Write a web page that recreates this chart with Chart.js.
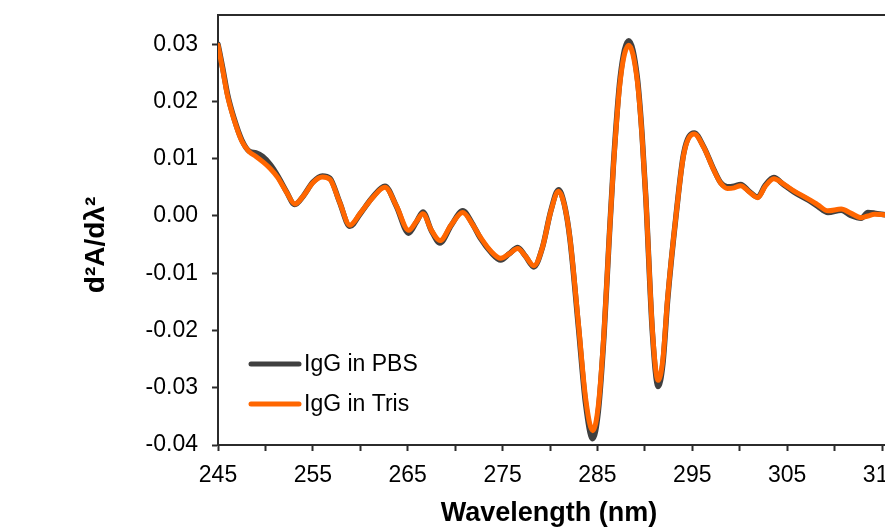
<!DOCTYPE html>
<html>
<head>
<meta charset="utf-8">
<script src="https://cdn.jsdelivr.net/npm/chart.js@4.4.1/dist/chart.umd.min.js"></script>
<style>
  html, body { margin: 0; padding: 0; background: #fff; overflow: hidden; }
  #wrap { width: 920px; height: 531px; }
</style>
</head>
<body>
<div id="wrap"><canvas id="spectrumChart" width="920" height="531"></canvas></div>
<script>
// Second-derivative UV spectra
const wavelength = [245, 245.5, 246, 246.7, 247.5, 248.3, 249, 249.7, 250.5, 251.3, 252.2, 253.1, 254, 255, 256,
    256.8, 257.8, 258.9, 260, 261.3, 262.6, 263.8, 265.1, 265.9, 266.6, 267.5, 268.4, 269.6, 270.8, 271.8,
    272.7, 273.8, 274.8, 275.7, 276.6, 277.4, 278.3, 279.2, 280.1, 280.9, 281.5, 282.1, 283, 283.75, 284.5,
    285.1, 285.7, 286.2, 286.7, 287.4, 288.3, 289.2, 289.7, 290.1, 290.8, 291.4, 291.9, 292.4, 293.3, 294.1,
    295.2, 296.2, 297.3, 298, 298.7, 299.4, 300.1, 301, 301.9, 302.7, 303.6, 304.6, 305.7, 307.2, 308.2,
    309.3, 310.7, 311.7, 312.8, 313.5, 314.2, 315.3];

const iggTris = [0.0298, 0.0255, 0.0210, 0.0168, 0.0131, 0.0112, 0.0104, 0.0095, 0.0083, 0.0067, 0.0042, 0.0021, 0.0035, 0.0058, 0.0068,
    0.0064, 0.0025, -0.0016, 0.0005, 0.0032, 0.0050, 0.0018, -0.0025, -0.0010, 0.0004, -0.0025, -0.0043, -0.0015, 0.0006, -0.0014,
    -0.0038, -0.0062, -0.0074, -0.0066, -0.0057, -0.0070, -0.0087, -0.0055, 0.0009, 0.0043, 0.0020, -0.0039, -0.0189, -0.0318, -0.0375,
    -0.0330, -0.0201, -0.0050, 0.0091, 0.0236, 0.0298, 0.0236, 0.0140, 0.0032, -0.0201, -0.0287, -0.0250, -0.0143, 0.0003, 0.0108,
    0.0143, 0.0120, 0.0079, 0.0057, 0.0048, 0.0049, 0.0053, 0.0042, 0.0032, 0.0052, 0.0065, 0.0056, 0.0044, 0.0030, 0.0020,
    0.0009, 0.0012, 0.0005, -0.0003, 0.0000, 0.0003, 0.0002];

const iggPbs = [0.0300, 0.0258, 0.0213, 0.0170, 0.0133, 0.0113, 0.0110, 0.0104, 0.0090, 0.0070, 0.0043, 0.0020, 0.0035, 0.0059, 0.0070,
    0.0066, 0.0025, -0.0018, 0.0004, 0.0033, 0.0052, 0.0017, -0.0030, -0.0011, 0.0007, -0.0026, -0.0047, -0.0016, 0.0009, -0.0013,
    -0.0040, -0.0064, -0.0077, -0.0066, -0.0055, -0.0070, -0.0089, -0.0055, 0.0010, 0.0046, 0.0021, -0.0040, -0.0195, -0.0328, -0.0389,
    -0.0340, -0.0206, -0.0051, 0.0094, 0.0242, 0.0306, 0.0242, 0.0143, 0.0032, -0.0206, -0.0298, -0.0258, -0.0147, 0.0003, 0.0110,
    0.0145, 0.0121, 0.0080, 0.0058, 0.0051, 0.0052, 0.0055, 0.0043, 0.0033, 0.0054, 0.0067, 0.0055, 0.0042, 0.0028, 0.0017,
    0.0006, 0.0010, 0.0001, -0.0004, 0.0006, 0.0005, 0.0002];

const seriesNames = ['IgG in PBS', 'IgG in Tris'];
const xTicks = [245, 255, 265, 275, 285, 295, 305, 315];
const yTicks = [-0.04, -0.03, -0.02, -0.01, 0, 0.01, 0.02, 0.03];

const FONT = "'Liberation Sans', Arial, sans-serif";
const AXIS_COLOR = '#2b2b2b';

function toPoints(values) {
    return wavelength.map(function(x, i) { return { x: x, y: values[i] }; });
}

// frame line on top, in-plot legend and both axis titles
const decorations = {
    id: 'decorations',
    afterDraw: function(chart) {
        const ctx = chart.ctx;
        const area = chart.chartArea;
        ctx.save();

        ctx.strokeStyle = AXIS_COLOR;
        ctx.lineWidth = 2;
        ctx.beginPath();
        ctx.moveTo(area.left - 1, area.top);
        ctx.lineTo(area.right, area.top);
        ctx.stroke();

        // legend
        const legendY = [364, 404];
        ctx.font = '23px ' + FONT;
        ctx.textBaseline = 'middle';
        ctx.textAlign = 'left';
        chart.data.datasets.forEach(function(ds, i) {
            ctx.strokeStyle = ds.borderColor;
            ctx.lineWidth = 5;
            ctx.lineCap = 'round';
            ctx.beginPath();
            ctx.moveTo(251, legendY[i]);
            ctx.lineTo(299, legendY[i]);
            ctx.stroke();
            ctx.fillStyle = '#000';
            ctx.fillText(ds.label, 304, legendY[i] + 1);
        });

        // axis titles
        ctx.fillStyle = '#000';
        ctx.font = 'bold 27px ' + FONT;
        ctx.textAlign = 'center';
        ctx.textBaseline = 'middle';
        ctx.fillText('Wavelength (nm)', 549, 514);

        ctx.font = 'bold 28px ' + FONT;
        ctx.translate(96, 245);
        ctx.rotate(-Math.PI / 2);
        ctx.fillText('d\u00B2A/d\u03BB\u00B2', 0, 0);
        ctx.restore();
    }
};

const ctx = document.getElementById('spectrumChart').getContext('2d');
new Chart(ctx, {
    type: 'line',
    data: {
        datasets: [{
            label: seriesNames[0],
            data: toPoints(iggPbs),
            borderColor: '#404040',
            borderWidth: 5.5,
            order: 2
        }, {
            label: seriesNames[1],
            data: toPoints(iggTris),
            borderColor: '#ff6600',
            borderWidth: 5,
            order: 1
        }]
    },
    options: {
        responsive: false,
        animation: false,
        devicePixelRatio: 1,
        layout: { padding: { top: 15, right: 19, left: 0, bottom: 0 } },
        elements: {
            point: { radius: 0 },
            line: { cubicInterpolationMode: 'monotone', borderCapStyle: 'round', borderJoinStyle: 'round' }
        },
        plugins: {
            legend: { display: false },
            tooltip: { enabled: false }
        },
        scales: {
            x: {
                type: 'linear',
                min: 245,
                max: 317,
                afterFit: function(axis) {
                    axis.height = 86;
                    axis.paddingLeft = 0;
                    axis.paddingRight = 0;
                },
                afterBuildTicks: function(axis) {
                    const t = [];
                    for (let v = 245; v <= 315; v += 5) t.push({ value: v });
                    axis.ticks = t;
                },
                ticks: {
                    autoSkip: false,
                    maxRotation: 0,
                    padding: 11,
                    color: '#000',
                    font: { family: FONT, size: 23 },
                    callback: function(value) {
                        return xTicks.indexOf(value) >= 0 ? String(value) : '';
                    }
                },
                grid: {
                    drawOnChartArea: false,
                    drawTicks: true,
                    tickLength: 6,
                    tickWidth: 2,
                    tickColor: AXIS_COLOR
                },
                border: { display: true, color: AXIS_COLOR, width: 2 }
            },
            y: {
                min: -0.04,
                max: 0.0351,
                afterFit: function(axis) {
                    axis.width = 218;
                    axis.paddingTop = 0;
                    axis.paddingBottom = 0;
                },
                afterBuildTicks: function(axis) {
                    axis.ticks = yTicks.map(function(v) { return { value: v }; });
                },
                ticks: {
                    padding: 14,
                    color: '#000',
                    font: { family: FONT, size: 23 },
                    callback: function(value) { return value.toFixed(2); }
                },
                grid: {
                    drawOnChartArea: false,
                    drawTicks: true,
                    tickLength: 6,
                    tickWidth: 2,
                    tickColor: AXIS_COLOR
                },
                border: { display: true, color: AXIS_COLOR, width: 2 }
            }
        }
    },
    plugins: [decorations]
});
</script>
</body>
</html>
